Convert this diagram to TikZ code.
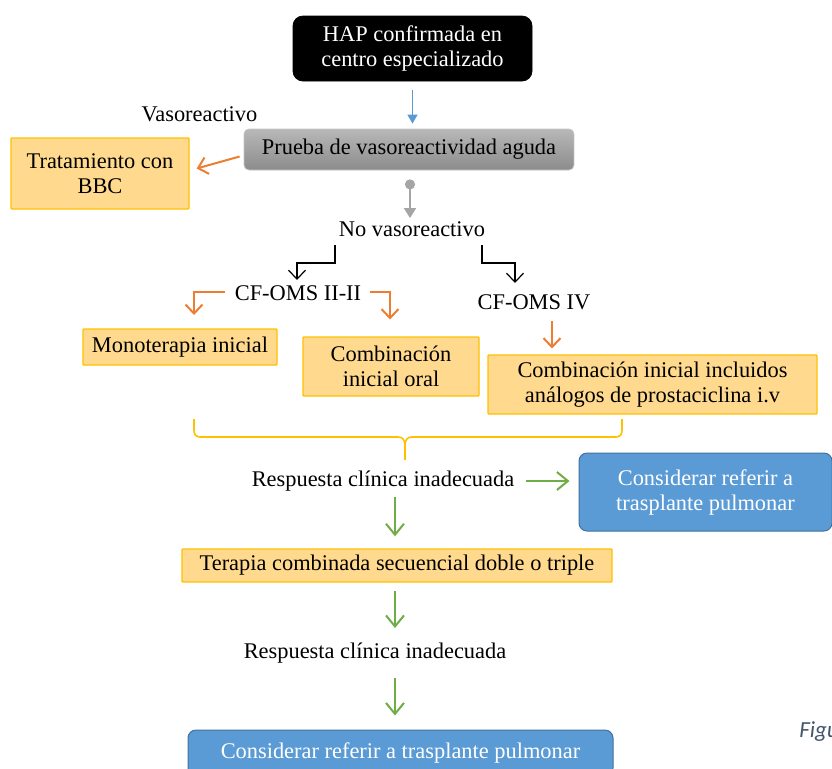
\documentclass[tikz,border=0pt]{standalone}
\usepackage{fontspec}
\setmainfont{Liberation Serif}
\newfontfamily\figfont{Carlito}
\usetikzlibrary{arrows.meta,calc}
\definecolor{orFill}{HTML}{FFDA8E}
\definecolor{orLine}{HTML}{FFC000}
\definecolor{grTop}{HTML}{B8B8B8}
\definecolor{grBot}{HTML}{8C8C8C}
\definecolor{grLine}{HTML}{C4C4C4}
\definecolor{bluFill}{HTML}{5B9BD5}
\definecolor{bluLine}{HTML}{41719C}
\definecolor{arOrange}{HTML}{ED7D31}
\definecolor{arGreen}{HTML}{70AD47}
\definecolor{arGray}{HTML}{A5A5A5}
\definecolor{figCol}{HTML}{44546A}
\tikzset{
  obox/.style={draw=orLine, fill=orFill, line width=0.7pt, rounded corners=0.4pt, inner sep=0pt, align=center},
  otext/.style={inner sep=0pt, align=center},
  blackbox/.style={draw=black, fill=black, rounded corners=5pt, text=white, inner sep=0pt, align=center},
  graybox/.style={draw=grLine, top color=grTop, bottom color=grBot, rounded corners=2.5pt, inner sep=0pt, align=center},
  bluebox/.style={draw=bluLine, fill=bluFill, rounded corners=4pt, text=white, inner sep=0pt, align=center, line width=0.5pt},
  plain/.style={inner sep=0pt, align=center},
  barb/.style={-{Straight Barb[length=4.5pt,width=8.5pt]}},
  arblue/.style={draw=bluFill, line width=0.8pt, -{Triangle[length=4.5pt,width=5pt]}},
  arorange/.style={draw=arOrange, line width=1pt, barb},
  arblack/.style={draw=black, line width=0.6pt, barb},
  argreen/.style={draw=arGreen, line width=1pt, -{Straight Barb[length=5.5pt,width=9pt]}},
  argray/.style={draw=arGray, line width=1pt, {Circle[length=5pt]}-{Triangle[length=5pt,width=6pt]}},
  bracestyle/.style={draw=orLine, line width=0.8pt}
}
\begin{document}
\begin{tikzpicture}[x=0.5pt,y=-0.5pt,font=\fontsize{11.2}{12.5}\selectfont]
\useasboundingbox (0,0) rectangle (832,768);
\clip (0,0) rectangle (832,768);

% nodes
\node[blackbox, minimum width=119.5pt, minimum height=32.5pt] (hap) at (412.5,48.5) {HAP confirmada en\\centro especializado};
\node[graybox, minimum width=165pt, minimum height=20.5pt] (prueba) at (409,149.5) {Prueba de vasoreactividad aguda};
\node[plain] (vaso) at (199.5,114) {Vasoreactivo};
\node[obox, minimum width=89pt, minimum height=35.5pt] (bbc) at (100,173.5) {Tratamiento con\\BBC};
\node[plain] (novaso) at (412,229) {No vasoreactivo};
\node[plain] (cf23) at (298,293) {CF-OMS II-II};
\node[plain] (cf4) at (534,302) {CF-OMS IV};
\node[obox, minimum width=97pt, minimum height=18pt] (mono) at (180,347) {Monoterapia inicial};
\node[obox, minimum width=88pt, minimum height=29.5pt] (comb) at (391,366.5) {Combinación\\inicial oral};
\node[obox, minimum width=164.5pt, minimum height=29.5pt] (combiv) at (652.5,384.5) {Combinación inicial incluidos\\análogos de prostaciclina i.v};
\node[plain] (resp1) at (383,481) {Respuesta clínica inadecuada};
\node[bluebox, minimum width=126.5pt, minimum height=39pt] (trasp1) at (705.5,492) {Considerar referir a\\trasplante pulmonar};
\node[obox, minimum width=215pt, minimum height=16.5pt] (terapia) at (397,565.5) {Terapia combinada secuencial doble o triple};
\node[plain] (resp2) at (375,653) {Respuesta clínica inadecuada};
\node[bluebox, minimum width=212.5pt, minimum height=23pt] (trasp2) at (400.5,753) {Considerar referir a trasplante pulmonar};
\node[inner sep=0pt, anchor=base west, text=figCol] (figu) at (799,737) {\figfont\itshape\fontsize{11.5}{13}\selectfont Figu};

% connectors
\draw[arblue] ($(hap.south)+(0,9)$) -- ($(prueba.north -| hap.south)+(0,-5)$);
\draw[arorange] ($(prueba.west)+(-4,7)$) -- ($(bbc.east)+(7,-5)$);
\draw[argray] ($(prueba.south)+(1,9)$) -- ($(novaso)+(-2,-11)$);
\draw[arblack] ($(novaso)+(-77,16)$) |- ($(cf23)+(-1,-30)$) -- ($(cf23)+(-1,-13)$);
\draw[arblack] ($(novaso)+(70,16)$) |- ($(cf4)+(-19,-39)$) -- ($(cf4)+(-19,-19)$);
\draw[arorange] ($(cf23)+(-73,-1)$) -| ($(mono)+(14,-32)$);
\draw[arorange] ($(cf23)+(72,-1)$) -| ($(comb)+(-1,-47)$);
\draw[arorange] ($(cf4)+(18,19)$) -- ($(combiv)+(-100.5,-36)$);
\draw[argreen] ($(resp1.east)+(11,0)$) -- ($(trasp1.west)+(-9,-11)$);
\draw[argreen] ($(resp1)+(12,16)$) -- ($(terapia.north)+(-2,-12)$);
\draw[argreen] ($(terapia.south)+(-2,8)$) -- ($(resp2)+(20,-25)$);
\draw[argreen] ($(resp2)+(20,25)$) -- ($(trasp2.north)+(-5.5,-14)$);

% brace
\draw[bracestyle] (194,419) -- (194,430) .. controls (194,435) and (196,437) .. (201,437)
  -- (398,437) .. controls (403,437) and (405,440) .. (405,446) -- (405,460);
\draw[bracestyle] (405,446) .. controls (405,440) and (407,437) .. (412,437)
  -- (615,437) .. controls (620,437) and (622,435) .. (622,430) -- (622,419);
\end{tikzpicture}
\end{document}
